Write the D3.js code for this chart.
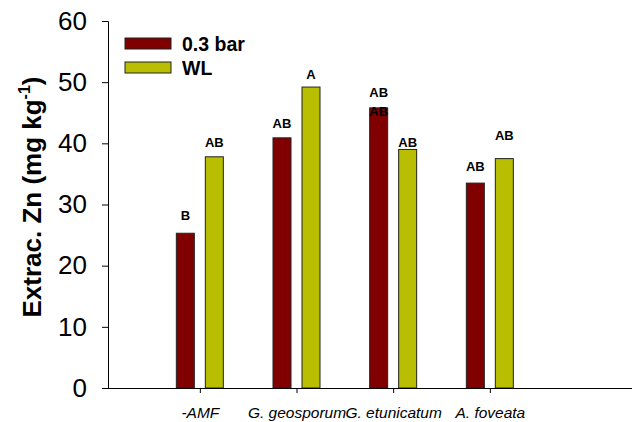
<!DOCTYPE html>
<html><head><meta charset="utf-8">
<script src="https://cdn.jsdelivr.net/npm/d3@7"></script>
<style>body{margin:0;background:#fff}svg{display:block}</style>
</head><body>
<script>
const categories = ["-AMF", "G. geosporum", "G. etunicatum", "A. foveata"];
const seriesNames = ["0.3 bar", "WL"];
const bar03 = [25.3, 40.9, 45.8, 33.5];
const barWL = [37.8, 49.2, 39.0, 37.5];
const yTicks = [0, 10, 20, 30, 40, 50, 60];
// letter labels: [category index, series index, text, value position]
const letters = [
  [0, 0, "B", 27.5], [0, 1, "AB", 39.4],
  [1, 0, "AB", 42.5], [1, 1, "A", 50.5],
  [2, 0, "AB", 47.6], [2, 0, "AB", 44.4], [2, 1, "AB", 39.4],
  [3, 0, "AB", 35.5], [3, 1, "AB", 40.5]
];
const colors = ["#800000", "#b9bf00"];

const W = 632, H = 422;
const FONT = "Arial, 'Liberation Sans', sans-serif";
const svg = d3.select("body").append("svg").attr("width", W).attr("height", H)
  .style("font-family", FONT);

const y = d3.scaleLinear().domain([0, 60]).range([388, 21]);
const x = d3.scaleLinear().domain([0.05, 5.45]).range([108, 630]);
const off = 0.15, bw = 18;

const series = [bar03, barWL];
series.forEach((vals, s) => {
  svg.append("g").selectAll("rect").data(vals).join("rect")
    .attr("x", (d, i) => x(i + 1 + (s === 0 ? -off : off)) - bw / 2)
    .attr("width", bw)
    .attr("y", d => y(d))
    .attr("height", d => y(0) - y(d))
    .attr("fill", colors[s])
    .attr("stroke", "#222").attr("stroke-width", 1);
});

svg.append("g").selectAll("text").data(letters).join("text")
  .attr("x", d => x(d[0] + 1 + (d[1] === 0 ? -off : off)))
  .attr("y", d => y(d[3]))
  .attr("text-anchor", "middle")
  .attr("font-size", 13).attr("font-weight", "bold")
  .text(d => d[2]);

// y axis
const ya = svg.append("g").attr("transform", "translate(108,0)")
  .call(d3.axisLeft(y).tickValues(yTicks).tickSize(6).tickPadding(15));
ya.select(".domain").attr("stroke", "#000");
ya.selectAll("text").attr("font-size", 26).attr("font-family", FONT).attr("fill", "#000");

// x axis
const xa = svg.append("g").attr("transform", "translate(0,388)")
  .call(d3.axisBottom(x).tickValues([1, 2, 3, 4]).tickFormat((d) => categories[d - 1]).tickSize(5).tickSizeOuter(0).tickPadding(14));
xa.select(".domain").attr("d", "M108,0.5H632").attr("stroke", "#000");
xa.selectAll("text").attr("font-size", 15.5).attr("font-style", "italic")
  .attr("font-family", FONT).attr("fill", "#000");

// y title
const yt = svg.append("text")
  .attr("transform", "translate(41,197) rotate(-90)")
  .attr("text-anchor", "middle")
  .attr("font-size", 26).attr("font-weight", "bold");
yt.append("tspan").text("Extrac. Zn (mg kg");
yt.append("tspan").attr("dy", -11).attr("font-size", 16).text("-1");
yt.append("tspan").attr("dy", 11).text(")");

// legend
const lg = svg.append("g");
seriesNames.forEach((n, i) => {
  lg.append("rect").attr("x", 125).attr("y", 38 + i * 24).attr("width", 46).attr("height", 11)
    .attr("fill", colors[i]).attr("stroke", "#222");
  lg.append("text").attr("x", 182).attr("y", 51 + i * 24)
    .attr("font-size", 19.5).attr("font-weight", "bold").text(n);
});
</script>
</body></html>
